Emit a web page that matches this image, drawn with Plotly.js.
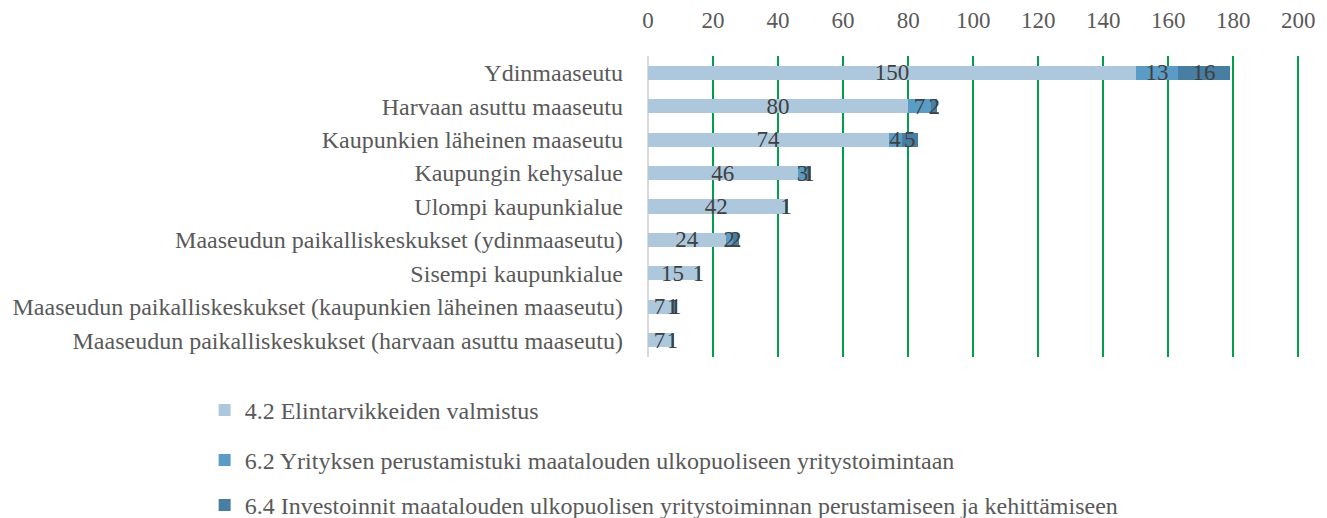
<!DOCTYPE html>
<html>
<head>
<meta charset="utf-8">
<script src="https://cdn.plot.ly/plotly-3.0.1.min.js"></script>
<style>html,body{margin:0;padding:0;background:#fff;}#chart{width:1327px;height:518px;}</style>
</head>
<body>
<div id="chart"></div>
<script>
const categories = [
  "Ydinmaaseutu",
  "Harvaan asuttu maaseutu",
  "Kaupunkien läheinen maaseutu",
  "Kaupungin kehysalue",
  "Ulompi kaupunkialue",
  "Maaseudun paikalliskeskukset (ydinmaaseutu)",
  "Sisempi kaupunkialue",
  "Maaseudun paikalliskeskukset (kaupunkien läheinen maaseutu)",
  "Maaseudun paikalliskeskukset (harvaan asuttu maaseutu)"
];
const seriesNames = [
  "4.2 Elintarvikkeiden valmistus",
  "6.2 Yrityksen perustamistuki maatalouden ulkopuoliseen yritystoimintaan",
  "6.4 Investoinnit maatalouden ulkopuolisen yritystoiminnan perustamiseen ja kehittämiseen"
];
const s42 = [150, 80, 74, 46, 42, 24, 15, 7, 7];
const s62 = [13, 7, 4, 3, 0, 2, 1, 1, 1];
const s64 = [16, 2, 5, 1, 1, 2, 0, 1, 0];
const xTicks = [0, 20, 40, 60, 80, 100, 120, 140, 160, 180, 200];

const colors = ["#adc8dc", "#5b9cc6", "#477ea1"];
const FONT = "'Liberation Serif', 'Times New Roman', serif";
const FS = 24;
const FSN = 23;

const allSeries = [s42, s62, s64];
const legendIds = ["legend", "legend2", "legend3"];
const traces = allSeries.map((vals, i) => ({
  type: "bar",
  orientation: "h",
  name: seriesNames[i],
  y: categories,
  x: vals,
  text: vals.map(v => v > 0 ? String(v) : ""),
  textposition: "inside",
  insidetextanchor: "middle",
  textangle: 0,
  constraintext: "none",
  textfont: {family: FONT, size: FSN, color: "#404040"},
  marker: {color: colors[i], line: {width: 0}},
  legend: legendIds[i],
  hoverinfo: "x+y+name"
}));

const legBase = {
  orientation: "v",
  xanchor: "left",
  yanchor: "top",
  font: {family: FONT, size: FS, color: "#595959"},
  bgcolor: "rgba(0,0,0,0)",
  borderwidth: 0
};
const legX = -0.68;

const layout = {
  width: 1327,
  height: 518,
  margin: {l: 648, r: 27, t: 56, b: 161, autoexpand: false},
  paper_bgcolor: "#ffffff",
  plot_bgcolor: "#ffffff",
  barmode: "stack",
  bargap: 0.58,
  font: {family: FONT, size: FS, color: "#595959"},
  xaxis: {
    side: "top",
    range: [0, 200.5],
    tickvals: xTicks,
    ticktext: xTicks.map(String),
    showgrid: true,
    gridcolor: "#00a04a",
    gridwidth: 2,
    zeroline: true,
    zerolinecolor: "#d9d9d9",
    zerolinewidth: 2,
    showline: false,
    ticks: "",
    ticklabelstandoff: 22,
    tickfont: {family: FONT, size: FSN, color: "#595959"},
    automargin: false,
    fixedrange: true
  },
  yaxis: {
    type: "category",
    autorange: "reversed",
    showgrid: false,
    zeroline: false,
    showline: false,
    ticks: "",
    ticklabelstandoff: 24,
    tickfont: {family: FONT, size: FS, color: "#595959"},
    automargin: false,
    fixedrange: true
  },
  legend: Object.assign({}, legBase, {x: legX, y: -0.103}),
  legend2: Object.assign({}, legBase, {x: legX, y: -0.269}),
  legend3: Object.assign({}, legBase, {x: legX, y: -0.418}),
  showlegend: true
};

Plotly.newPlot("chart", traces, layout, {displayModeBar: false, staticPlot: true});
</script>
</body>
</html>
